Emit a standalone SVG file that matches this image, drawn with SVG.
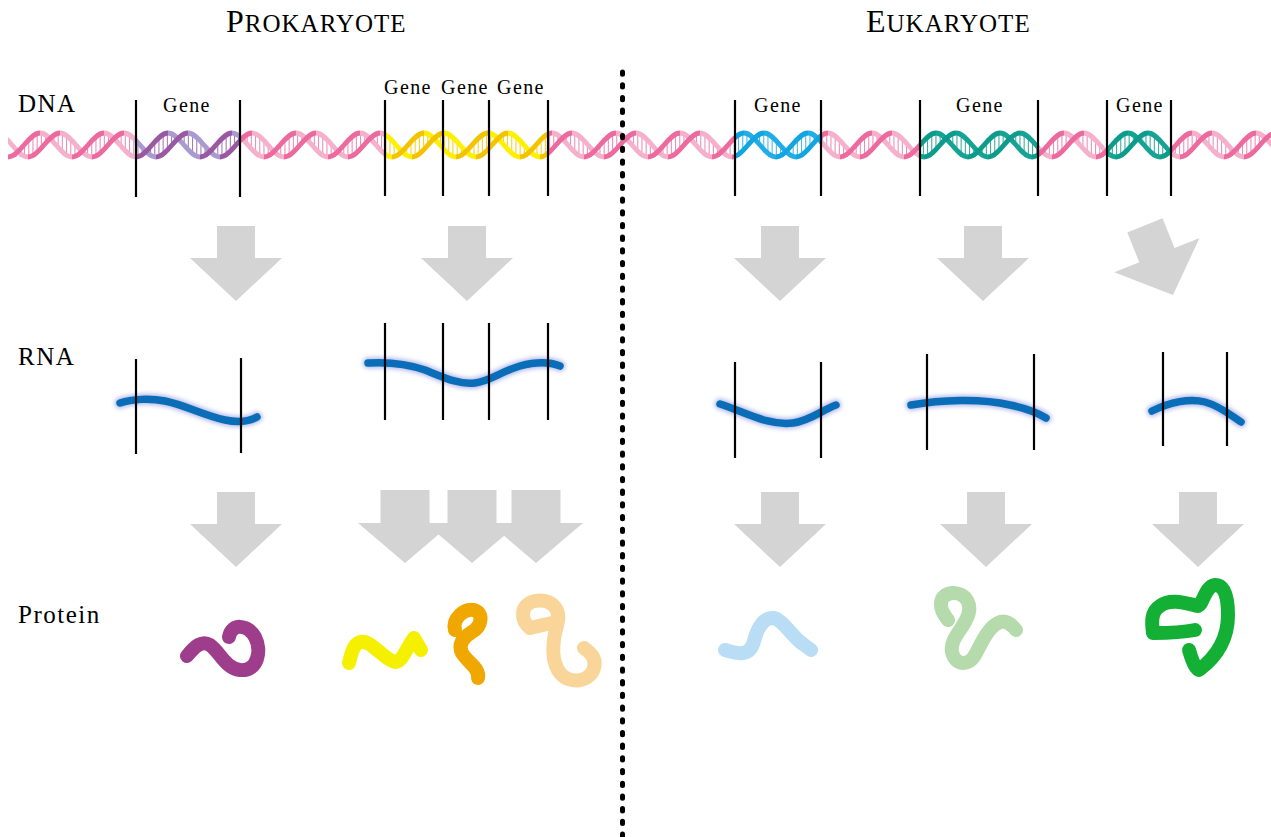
<svg xmlns="http://www.w3.org/2000/svg" xmlns:xlink="http://www.w3.org/1999/xlink" width="1271" height="837" viewBox="0 0 1271 837">
  <style>
    .title { font-family: "Liberation Serif", "Times New Roman", serif; fill: #000; letter-spacing: 1px; }
    .lbl { font-family: "Liberation Serif", "Times New Roman", serif; font-size: 25px; fill: #000; letter-spacing: 1.5px; }
    .gene { font-family: "Liberation Serif", "Times New Roman", serif; font-size: 20px; fill: #000; letter-spacing: 1.4px; text-anchor: middle; }
    .bound { stroke: #000; stroke-width: 2.2; }
    .arrow { fill: #d4d4d4; }
    .rna-halo { fill: none; stroke: #6c78d8; stroke-width: 11; stroke-linecap: round; opacity: 0.5; }
    .rna { fill: none; stroke: #0a6db7; stroke-width: 7.5; stroke-linecap: round; stroke-linejoin: round; }
    .prot { fill: none; stroke-width: 14; stroke-linecap: round; stroke-linejoin: round; }
  </style>
  <defs>
    <!-- region between the two strands, used to clip the base-pair rungs -->
    <clipPath id="band">
      <path d="M-56,157c11.6,0 20.4,-24 32,-24c11.6,0 20.4,24 32,24c11.6,0 20.4,-24 32,-24c11.6,0 20.4,24 32,24c11.6,0 20.4,-24 32,-24c11.6,0 20.4,24 32,24c11.6,0 20.4,-24 32,-24c11.6,0 20.4,24 32,24c11.6,0 20.4,-24 32,-24c11.6,0 20.4,24 32,24c11.6,0 20.4,-24 32,-24c11.6,0 20.4,24 32,24c11.6,0 20.4,-24 32,-24c11.6,0 20.4,24 32,24c11.6,0 20.4,-24 32,-24c11.6,0 20.4,24 32,24c11.6,0 20.4,-24 32,-24c11.6,0 20.4,24 32,24c11.6,0 20.4,-24 32,-24c11.6,0 20.4,24 32,24c11.6,0 20.4,-24 32,-24c11.6,0 20.4,24 32,24c11.6,0 20.4,-24 32,-24c11.6,0 20.4,24 32,24c11.6,0 20.4,-24 32,-24c11.6,0 20.4,24 32,24c11.6,0 20.4,-24 32,-24c11.6,0 20.4,24 32,24c11.6,0 20.4,-24 32,-24c11.6,0 20.4,24 32,24c11.6,0 20.4,-24 32,-24c11.6,0 20.4,24 32,24c11.6,0 20.4,-24 32,-24c11.6,0 20.4,24 32,24c11.6,0 20.4,-24 32,-24c11.6,0 20.4,24 32,24c11.6,0 20.4,-24 32,-24c11.6,0 20.4,24 32,24c11.6,0 20.4,-24 32,-24c11.6,0 20.4,24 32,24c11.6,0 20.4,-24 32,-24c11.6,0 20.4,24 32,24L1308,157c-11.6,0 -20.4,-24 -32,-24c-11.6,0 -20.4,24 -32,24c-11.6,0 -20.4,-24 -32,-24c-11.6,0 -20.4,24 -32,24c-11.6,0 -20.4,-24 -32,-24c-11.6,0 -20.4,24 -32,24c-11.6,0 -20.4,-24 -32,-24c-11.6,0 -20.4,24 -32,24c-11.6,0 -20.4,-24 -32,-24c-11.6,0 -20.4,24 -32,24c-11.6,0 -20.4,-24 -32,-24c-11.6,0 -20.4,24 -32,24c-11.6,0 -20.4,-24 -32,-24c-11.6,0 -20.4,24 -32,24c-11.6,0 -20.4,-24 -32,-24c-11.6,0 -20.4,24 -32,24c-11.6,0 -20.4,-24 -32,-24c-11.6,0 -20.4,24 -32,24c-11.6,0 -20.4,-24 -32,-24c-11.6,0 -20.4,24 -32,24c-11.6,0 -20.4,-24 -32,-24c-11.6,0 -20.4,24 -32,24c-11.6,0 -20.4,-24 -32,-24c-11.6,0 -20.4,24 -32,24c-11.6,0 -20.4,-24 -32,-24c-11.6,0 -20.4,24 -32,24c-11.6,0 -20.4,-24 -32,-24c-11.6,0 -20.4,24 -32,24c-11.6,0 -20.4,-24 -32,-24c-11.6,0 -20.4,24 -32,24c-11.6,0 -20.4,-24 -32,-24c-11.6,0 -20.4,24 -32,24c-11.6,0 -20.4,-24 -32,-24c-11.6,0 -20.4,24 -32,24c-11.6,0 -20.4,-24 -32,-24c-11.6,0 -20.4,24 -32,24c-11.6,0 -20.4,-24 -32,-24c-11.6,0 -20.4,24 -32,24c-11.6,0 -20.4,-24 -32,-24c-11.6,0 -20.4,24 -32,24Z"/>
    </clipPath>

    <!-- double helix; strand and rung colours come from custom properties on each use -->
    <g id="helix">
      <path clip-path="url(#band)" style="fill:none;stroke:var(--rg,#ef8db5);stroke-width:28;stroke-dasharray:1.1 3.1" d="M-60,145H1320"/>
      <path style="fill:none;stroke:var(--lt,#f5aecb);stroke-width:4.8" d="M-24,133c11.6,0 20.4,24 32,24m32,-24c11.6,0 20.4,24 32,24m32,-24c11.6,0 20.4,24 32,24m32,-24c11.6,0 20.4,24 32,24m32,-24c11.6,0 20.4,24 32,24m32,-24c11.6,0 20.4,24 32,24m32,-24c11.6,0 20.4,24 32,24m32,-24c11.6,0 20.4,24 32,24m32,-24c11.6,0 20.4,24 32,24m32,-24c11.6,0 20.4,24 32,24m32,-24c11.6,0 20.4,24 32,24m32,-24c11.6,0 20.4,24 32,24m32,-24c11.6,0 20.4,24 32,24m32,-24c11.6,0 20.4,24 32,24m32,-24c11.6,0 20.4,24 32,24m32,-24c11.6,0 20.4,24 32,24m32,-24c11.6,0 20.4,24 32,24m32,-24c11.6,0 20.4,24 32,24m32,-24c11.6,0 20.4,24 32,24m32,-24c11.6,0 20.4,24 32,24m32,-24c11.6,0 20.4,24 32,24m32,-24c11.6,0 20.4,24 32,24M-4,133c11.6,0 20.4,24 32,24m32,-24c11.6,0 20.4,24 32,24m32,-24c11.6,0 20.4,24 32,24m32,-24c11.6,0 20.4,24 32,24m32,-24c11.6,0 20.4,24 32,24m32,-24c11.6,0 20.4,24 32,24m32,-24c11.6,0 20.4,24 32,24m32,-24c11.6,0 20.4,24 32,24m32,-24c11.6,0 20.4,24 32,24m32,-24c11.6,0 20.4,24 32,24m32,-24c11.6,0 20.4,24 32,24m32,-24c11.6,0 20.4,24 32,24m32,-24c11.6,0 20.4,24 32,24m32,-24c11.6,0 20.4,24 32,24m32,-24c11.6,0 20.4,24 32,24m32,-24c11.6,0 20.4,24 32,24m32,-24c11.6,0 20.4,24 32,24m32,-24c11.6,0 20.4,24 32,24m32,-24c11.6,0 20.4,24 32,24m32,-24c11.6,0 20.4,24 32,24m32,-24c11.6,0 20.4,24 32,24m32,-24c11.6,0 20.4,24 32,24"/>
      <path style="fill:none;stroke:var(--dk,#ec6a9e);stroke-width:4.8" d="M-56,157c11.6,0 20.4,-24 32,-24m32,24c11.6,0 20.4,-24 32,-24m32,24c11.6,0 20.4,-24 32,-24m32,24c11.6,0 20.4,-24 32,-24m32,24c11.6,0 20.4,-24 32,-24m32,24c11.6,0 20.4,-24 32,-24m32,24c11.6,0 20.4,-24 32,-24m32,24c11.6,0 20.4,-24 32,-24m32,24c11.6,0 20.4,-24 32,-24m32,24c11.6,0 20.4,-24 32,-24m32,24c11.6,0 20.4,-24 32,-24m32,24c11.6,0 20.4,-24 32,-24m32,24c11.6,0 20.4,-24 32,-24m32,24c11.6,0 20.4,-24 32,-24m32,24c11.6,0 20.4,-24 32,-24m32,24c11.6,0 20.4,-24 32,-24m32,24c11.6,0 20.4,-24 32,-24m32,24c11.6,0 20.4,-24 32,-24m32,24c11.6,0 20.4,-24 32,-24m32,24c11.6,0 20.4,-24 32,-24m32,24c11.6,0 20.4,-24 32,-24m32,24c11.6,0 20.4,-24 32,-24M-36,157c11.6,0 20.4,-24 32,-24m32,24c11.6,0 20.4,-24 32,-24m32,24c11.6,0 20.4,-24 32,-24m32,24c11.6,0 20.4,-24 32,-24m32,24c11.6,0 20.4,-24 32,-24m32,24c11.6,0 20.4,-24 32,-24m32,24c11.6,0 20.4,-24 32,-24m32,24c11.6,0 20.4,-24 32,-24m32,24c11.6,0 20.4,-24 32,-24m32,24c11.6,0 20.4,-24 32,-24m32,24c11.6,0 20.4,-24 32,-24m32,24c11.6,0 20.4,-24 32,-24m32,24c11.6,0 20.4,-24 32,-24m32,24c11.6,0 20.4,-24 32,-24m32,24c11.6,0 20.4,-24 32,-24m32,24c11.6,0 20.4,-24 32,-24m32,24c11.6,0 20.4,-24 32,-24m32,24c11.6,0 20.4,-24 32,-24m32,24c11.6,0 20.4,-24 32,-24m32,24c11.6,0 20.4,-24 32,-24m32,24c11.6,0 20.4,-24 32,-24m32,24c11.6,0 20.4,-24 32,-24"/>
    </g>

    <!-- colour ranges along the DNA -->
    <clipPath id="cp-pink">
      <rect x="8" y="118" width="128" height="54"/>
      <rect x="240" y="118" width="145" height="54"/>
      <rect x="548" y="118" width="187" height="54"/>
      <rect x="821" y="118" width="98" height="54"/>
      <rect x="1038" y="118" width="69" height="54"/>
      <rect x="1171" y="118" width="100" height="54"/>
    </clipPath>
    <clipPath id="cp-purple"><rect x="136" y="118" width="104" height="54"/></clipPath>
    <clipPath id="cp-yellow"><rect x="385" y="118" width="163" height="54"/></clipPath>
    <clipPath id="cp-blue"><rect x="735" y="118" width="86" height="54"/></clipPath>
    <clipPath id="cp-teal">
      <rect x="919" y="118" width="119" height="54"/>
      <rect x="1107" y="118" width="64" height="54"/>
    </clipPath>

    <filter id="fuzz" x="-20%" y="-100%" width="140%" height="300%">
      <feGaussianBlur stdDeviation="2"/>
    </filter>

    <!-- block arrow, tip at the origin -->
    <path id="down" d="M-19,-75H19V-43H46L0,0L-46,-43H-19Z"/>
  </defs>

  <rect width="1271" height="837" fill="#fff"/>

  <!-- headings -->
  <g id="title-prokaryote">
    <text class="title" x="226" y="32"><tspan font-size="32">P</tspan><tspan font-size="25">ROKARYOTE</tspan></text>
  </g>
  <g id="title-eukaryote">
    <text class="title" x="866" y="32"><tspan font-size="32">E</tspan><tspan font-size="25">UKARYOTE</tspan></text>
  </g>

  <!-- row labels -->
  <g id="row-labels">
    <text class="lbl" x="18" y="112">DNA</text>
    <text class="lbl" x="18" y="365">RNA</text>
    <text class="lbl" x="18" y="623">Protein</text>
  </g>

  <!-- DNA strand -->
  <g id="dna">
    <use xlink:href="#helix" clip-path="url(#cp-pink)" style="--dk:#ec6a9e;--lt:#f5b0cc;--rg:#ef8fb7"/>
    <use xlink:href="#helix" clip-path="url(#cp-purple)" style="--dk:#9a58a3;--lt:#a99ad0;--rg:#a57cba"/>
    <use xlink:href="#helix" clip-path="url(#cp-yellow)" style="--dk:#f4c300;--lt:#fff000;--rg:#f7d12a"/>
    <use xlink:href="#helix" clip-path="url(#cp-blue)" style="--dk:#13a5e2;--lt:#22ade6;--rg:#4dbbea"/>
    <use xlink:href="#helix" clip-path="url(#cp-teal)" style="--dk:#0d9c8c;--lt:#14a394;--rg:#3daea1"/>
  </g>

  <!-- gene labels and boundaries on the DNA -->
  <g id="genes-prokaryote">
    <text class="gene" x="187" y="112">Gene</text>
    <text class="gene" x="408" y="94">Gene</text>
    <text class="gene" x="465" y="94">Gene</text>
    <text class="gene" x="521" y="94">Gene</text>
    <line class="bound" x1="136" y1="100" x2="136" y2="197"/>
    <line class="bound" x1="240" y1="100" x2="240" y2="197"/>
    <line class="bound" x1="385" y1="100" x2="385" y2="196"/>
    <line class="bound" x1="443" y1="100" x2="443" y2="196"/>
    <line class="bound" x1="489" y1="100" x2="489" y2="196"/>
    <line class="bound" x1="548" y1="100" x2="548" y2="196"/>
  </g>
  <g id="genes-eukaryote">
    <text class="gene" x="778" y="112">Gene</text>
    <text class="gene" x="980" y="112">Gene</text>
    <text class="gene" x="1140" y="112">Gene</text>
    <line class="bound" x1="735" y1="100" x2="735" y2="196"/>
    <line class="bound" x1="821" y1="100" x2="821" y2="196"/>
    <line class="bound" x1="920" y1="100" x2="920" y2="196"/>
    <line class="bound" x1="1038" y1="100" x2="1038" y2="196"/>
    <line class="bound" x1="1107" y1="100" x2="1107" y2="196"/>
    <line class="bound" x1="1171" y1="100" x2="1171" y2="196"/>
  </g>

  <!-- divider between the two halves -->
  <g id="divider">
    <line x1="622.5" y1="72" x2="622.5" y2="840" stroke="#000" stroke-width="5" stroke-linecap="round" stroke-dasharray="2.3 10.4"/>
  </g>

  <!-- transcription / translation arrows -->
  <g id="connectors" class="arrow">
    <use xlink:href="#down" x="236" y="301"/>
    <use xlink:href="#down" x="467" y="301"/>
    <use xlink:href="#down" x="780" y="301"/>
    <use xlink:href="#down" x="983" y="301"/>
    <use xlink:href="#down" transform="translate(1173 295) rotate(-22)"/>

    <use xlink:href="#down" x="236" y="567"/>
    <path d="M380.5,490H429.5V523H452L405,563L358,523H380.5Z"/>
    <path d="M447.5,490H496.5V523H519L472,563L425,523H447.5Z"/>
    <path d="M511.5,490H560.5V523H583L536,563L489,523H511.5Z"/>
    <use xlink:href="#down" x="780" y="567"/>
    <use xlink:href="#down" x="986" y="567"/>
    <use xlink:href="#down" x="1198" y="567"/>
  </g>

  <!-- RNA transcripts -->
  <g id="rna-1">
    <path class="rna-halo" filter="url(#fuzz)" d="M120,403C132,399 150,398 165,401C185,405 205,416 225,420C240,423 250,421 257,417"/>
    <path class="rna" d="M120,403C132,399 150,398 165,401C185,405 205,416 225,420C240,423 250,421 257,417"/>
    <line class="bound" x1="136" y1="359" x2="136" y2="454"/>
    <line class="bound" x1="241" y1="358" x2="241" y2="453"/>
  </g>
  <g id="rna-2">
    <path class="rna-halo" filter="url(#fuzz)" d="M368,363C385,362 405,363 425,370C445,378 460,385 475,383C490,381 500,372 520,366C535,362 550,362 560,366"/>
    <path class="rna" d="M368,363C385,362 405,363 425,370C445,378 460,385 475,383C490,381 500,372 520,366C535,362 550,362 560,366"/>
    <line class="bound" x1="385" y1="323" x2="385" y2="420"/>
    <line class="bound" x1="443" y1="323" x2="443" y2="420"/>
    <line class="bound" x1="489" y1="323" x2="489" y2="420"/>
    <line class="bound" x1="548" y1="323" x2="548" y2="420"/>
  </g>
  <g id="rna-3">
    <path class="rna-halo" filter="url(#fuzz)" d="M720,404C745,412 768,426 793,423C810,421 822,410 836,405"/>
    <path class="rna" d="M720,404C745,412 768,426 793,423C810,421 822,410 836,405"/>
    <line class="bound" x1="735" y1="362" x2="735" y2="458"/>
    <line class="bound" x1="821" y1="362" x2="821" y2="458"/>
  </g>
  <g id="rna-4">
    <path class="rna-halo" filter="url(#fuzz)" d="M911,405C940,400 980,398 1010,405C1025,408 1038,413 1046,418"/>
    <path class="rna" d="M911,405C940,400 980,398 1010,405C1025,408 1038,413 1046,418"/>
    <line class="bound" x1="927" y1="354" x2="927" y2="450"/>
    <line class="bound" x1="1034" y1="354" x2="1034" y2="450"/>
  </g>
  <g id="rna-5">
    <path class="rna-halo" filter="url(#fuzz)" d="M1152,411C1170,402 1190,398 1205,402C1220,406 1232,416 1241,422"/>
    <path class="rna" d="M1152,411C1170,402 1190,398 1205,402C1220,406 1232,416 1241,422"/>
    <line class="bound" x1="1163" y1="352" x2="1163" y2="446"/>
    <line class="bound" x1="1227" y1="352" x2="1227" y2="446"/>
  </g>

  <!-- folded proteins -->
  <g id="protein-1">
    <path class="prot" stroke="#9e3d8c" d="M187,656C195,646 202,640 210,645C220,652 225,668 240,670C258,672 262,650 255,637C248,625 232,622 229,637"/>
  </g>
  <g id="protein-2">
    <path class="prot" stroke="#f5f000" d="M349,663C352,650 355,640 365,642C375,645 385,660 395,662C402,663 408,645 414,638L421,650"/>
  </g>
  <g id="protein-3">
    <path class="prot" stroke="#f0a800" d="M455,630C452,618 465,608 474,610C484,613 482,626 472,632C462,638 458,645 462,653C468,663 480,668 478,678"/>
  </g>
  <g id="protein-4">
    <path class="prot" stroke="#fad59a" stroke-width="15" d="M556,622L530,628C520,620 520,604 535,601C550,598 562,608 557,625C553,640 550,660 560,673C570,685 590,682 594,668C597,658 590,652 584,648"/>
  </g>
  <g id="protein-5">
    <path class="prot" stroke="#b8ddf5" stroke-width="12" d="M725,650C738,654 750,657 754,641C758,626 764,618 773,618C783,619 792,637 803,644L811,650"/>
  </g>
  <g id="protein-6">
    <path class="prot" stroke="#b5daab" stroke-width="13" d="M948,620C938,608 938,595 952,593C966,592 974,605 966,620C960,632 950,640 952,652C955,665 968,667 975,655C982,642 988,628 998,623C1006,619 1012,625 1016,630"/>
  </g>
  <g id="protein-7">
    <path class="prot" stroke="#13b035" d="M1189,650C1192,660 1195,668 1199,670C1215,658 1228,640 1228,615C1228,598 1225,585 1215,585C1205,586 1203,605 1198,606C1185,603 1170,598 1160,606C1150,612 1152,625 1153,633C1170,633 1185,632 1195,630"/>
  </g>
</svg>
